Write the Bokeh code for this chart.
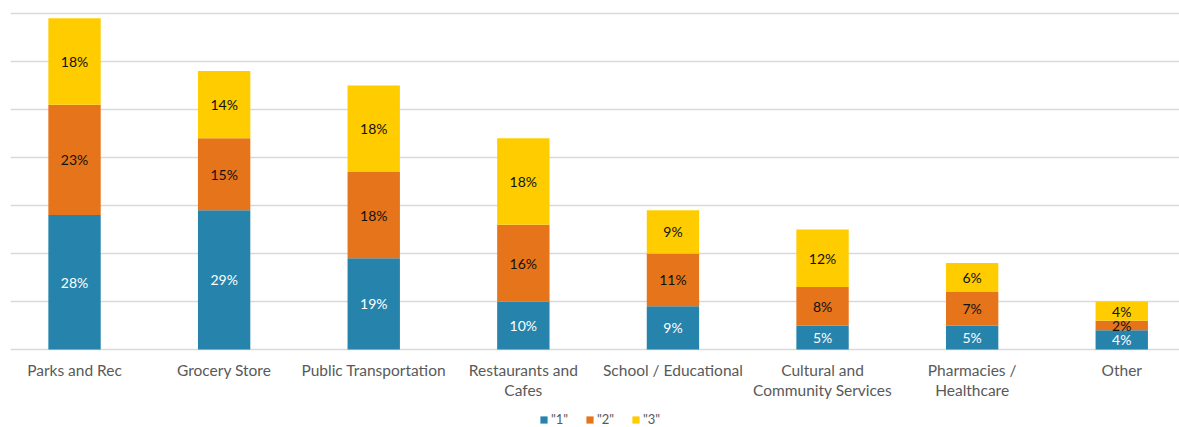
from bokeh.plotting import figure
from bokeh.models import ColumnDataSource, FixedTicker, Range1d, Legend, LegendItem
from bokeh.core.properties import value
from bokeh.embed import file_html
from bokeh.resources import INLINE

categories = ["Parks and Rec", "Grocery Store", "Public Transportation", "Restaurants and\nCafes",
              "School / Educational", "Cultural and\nCommunity Services", "Pharmacies /\nHealthcare", "Other"]
s1 = [28, 29, 19, 10, 9, 5, 5, 4]
s2 = [23, 15, 18, 16, 11, 8, 7, 2]
s3 = [18, 14, 18, 18, 9, 12, 6, 4]
series_names = ['"1"', '"2"', '"3"']
colors = ["#2683AC", "#E5741A", "#FFCC00"]
label_colors = ["#FFFFFF", "#111111", "#111111"]
grid_ticks = [0, 10, 20, 30, 40, 50, 60, 70]

x = list(range(len(categories)))
src = ColumnDataSource(dict(x=x, s1=s1, s2=s2, s3=s3))

FONT = "Lato"
p = figure(frame_width=1169, frame_height=427, output_backend="svg", toolbar_location=None,
           x_range=Range1d(-0.428, 7.386), y_range=Range1d(-16.25, 72.71),
           min_border_left=10, min_border_right=0, min_border_top=0, min_border_bottom=0)
p.outline_line_color = None
p.xaxis.visible = False
p.yaxis.visible = False

p.ygrid.ticker = FixedTicker(ticks=grid_ticks)
p.ygrid.grid_line_color = "#D9D9D9"
p.ygrid.grid_line_width = 1.5
p.xgrid.grid_line_color = None

rs = p.vbar_stack(["s1", "s2", "s3"], x="x", width=0.35, color=colors, source=src, line_width=0)

# segment labels
mids = [
    [a / 2 for a in s1],
    [a + b / 2 for a, b in zip(s1, s2)],
    [a + b + c / 2 for a, b, c in zip(s1, s2, s3)],
]
vals = [s1, s2, s3]
for k in range(3):
    ls = ColumnDataSource(dict(x=x, y=mids[k], t=[f"{v}%" for v in vals[k]]))
    p.text(x="x", y="y", text="t", source=ls, text_align="center", text_baseline="middle",
           text_font=value(FONT), text_font_size="14px", text_color=label_colors[k])

# category labels under the baseline
cs = ColumnDataSource(dict(x=x, y=[0] * len(x), t=categories))
p.text(x="x", y="y", text="t", source=cs, text_align="center", text_baseline="top",
       y_offset=11, text_font=value(FONT), text_font_size="15.5px", text_color="#595959",
       text_line_height=1.12)

legend = Legend(items=[LegendItem(label=series_names[k], renderers=[rs[k]]) for k in range(3)],
                orientation="horizontal", location=(529, 0),
                label_text_font=FONT, label_text_font_size="13px", label_text_color="#595959",
                glyph_width=9, glyph_height=9, label_standoff=3, spacing=14,
                border_line_color=None, background_fill_alpha=0, margin=0, padding=2,
                label_height=10)
p.add_layout(legend, "center")

open("out.html", "w").write(file_html(p, INLINE))
